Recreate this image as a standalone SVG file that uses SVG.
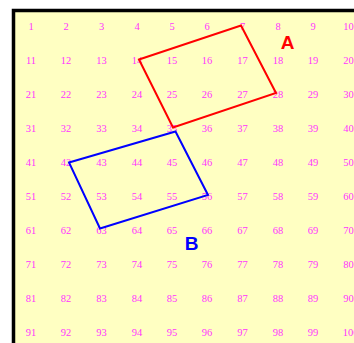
<svg xmlns="http://www.w3.org/2000/svg" width="354" height="343" viewBox="0 0 354 343">
<style>
.n{font-family:"Liberation Serif","Times New Roman",serif;font-size:10.5px;fill:#ff33ff;text-anchor:middle}
.lbl{font-family:"Liberation Sans",Arial,sans-serif;font-size:19px;font-weight:bold;text-anchor:middle}
</style>
<rect x="0" y="0" width="354" height="343" fill="#ffffff"/>
<rect x="13.5" y="10.5" width="360" height="360" fill="#ffffc2" stroke="#000" stroke-width="3.5"/>
<g id="grid">
<text class="n" x="31" y="29.5">1</text><text class="n" x="66" y="29.5">2</text><text class="n" x="101.5" y="29.5">3</text><text class="n" x="137" y="29.5">4</text><text class="n" x="172" y="29.5">5</text><text class="n" x="207" y="29.5">6</text><text class="n" x="242.5" y="29.5">7</text><text class="n" x="278" y="29.5">8</text><text class="n" x="313" y="29.5">9</text><text class="n" x="348.5" y="29.5">10</text>
<text class="n" x="31" y="63.5">11</text><text class="n" x="66" y="63.5">12</text><text class="n" x="101.5" y="63.5">13</text><text class="n" x="137" y="63.5">14</text><text class="n" x="172" y="63.5">15</text><text class="n" x="207" y="63.5">16</text><text class="n" x="242.5" y="63.5">17</text><text class="n" x="278" y="63.5">18</text><text class="n" x="313" y="63.5">19</text><text class="n" x="348.5" y="63.5">20</text>
<text class="n" x="31" y="97.5">21</text><text class="n" x="66" y="97.5">22</text><text class="n" x="101.5" y="97.5">23</text><text class="n" x="137" y="97.5">24</text><text class="n" x="172" y="97.5">25</text><text class="n" x="207" y="97.5">26</text><text class="n" x="242.5" y="97.5">27</text><text class="n" x="278" y="97.5">28</text><text class="n" x="313" y="97.5">29</text><text class="n" x="348.5" y="97.5">30</text>
<text class="n" x="31" y="131.5">31</text><text class="n" x="66" y="131.5">32</text><text class="n" x="101.5" y="131.5">33</text><text class="n" x="137" y="131.5">34</text><text class="n" x="172" y="131.5">35</text><text class="n" x="207" y="131.5">36</text><text class="n" x="242.5" y="131.5">37</text><text class="n" x="278" y="131.5">38</text><text class="n" x="313" y="131.5">39</text><text class="n" x="348.5" y="131.5">40</text>
<text class="n" x="31" y="165.5">41</text><text class="n" x="66" y="165.5">42</text><text class="n" x="101.5" y="165.5">43</text><text class="n" x="137" y="165.5">44</text><text class="n" x="172" y="165.5">45</text><text class="n" x="207" y="165.5">46</text><text class="n" x="242.5" y="165.5">47</text><text class="n" x="278" y="165.5">48</text><text class="n" x="313" y="165.5">49</text><text class="n" x="348.5" y="165.5">50</text>
<text class="n" x="31" y="199.5">51</text><text class="n" x="66" y="199.5">52</text><text class="n" x="101.5" y="199.5">53</text><text class="n" x="137" y="199.5">54</text><text class="n" x="172" y="199.5">55</text><text class="n" x="207" y="199.5">56</text><text class="n" x="242.5" y="199.5">57</text><text class="n" x="278" y="199.5">58</text><text class="n" x="313" y="199.5">59</text><text class="n" x="348.5" y="199.5">60</text>
<text class="n" x="31" y="233.5">61</text><text class="n" x="66" y="233.5">62</text><text class="n" x="101.5" y="233.5">63</text><text class="n" x="137" y="233.5">64</text><text class="n" x="172" y="233.5">65</text><text class="n" x="207" y="233.5">66</text><text class="n" x="242.5" y="233.5">67</text><text class="n" x="278" y="233.5">68</text><text class="n" x="313" y="233.5">69</text><text class="n" x="348.5" y="233.5">70</text>
<text class="n" x="31" y="267.5">71</text><text class="n" x="66" y="267.5">72</text><text class="n" x="101.5" y="267.5">73</text><text class="n" x="137" y="267.5">74</text><text class="n" x="172" y="267.5">75</text><text class="n" x="207" y="267.5">76</text><text class="n" x="242.5" y="267.5">77</text><text class="n" x="278" y="267.5">78</text><text class="n" x="313" y="267.5">79</text><text class="n" x="348.5" y="267.5">80</text>
<text class="n" x="31" y="301.5">81</text><text class="n" x="66" y="301.5">82</text><text class="n" x="101.5" y="301.5">83</text><text class="n" x="137" y="301.5">84</text><text class="n" x="172" y="301.5">85</text><text class="n" x="207" y="301.5">86</text><text class="n" x="242.5" y="301.5">87</text><text class="n" x="278" y="301.5">88</text><text class="n" x="313" y="301.5">89</text><text class="n" x="348.5" y="301.5">90</text>
<text class="n" x="31" y="335.5">91</text><text class="n" x="66" y="335.5">92</text><text class="n" x="101.5" y="335.5">93</text><text class="n" x="137" y="335.5">94</text><text class="n" x="172" y="335.5">95</text><text class="n" x="207" y="335.5">96</text><text class="n" x="242.5" y="335.5">97</text><text class="n" x="278" y="335.5">98</text><text class="n" x="313" y="335.5">99</text><text class="n" x="350.5" y="335.5">100</text>
</g>
<g id="A">
<polygon points="139,59.5 241,25.5 276,93 173,127.5" fill="none" stroke="#ff0000" stroke-width="2"/>
<text class="lbl" x="287.5" y="48.5" fill="#ff0000">A</text>
</g>
<g id="B">
<polygon points="69,162.5 175.5,131.5 208,195 100,228.5" fill="none" stroke="#0000ff" stroke-width="2"/>
<text class="lbl" x="191.5" y="250" fill="#0000ff">B</text>
</g>
</svg>
